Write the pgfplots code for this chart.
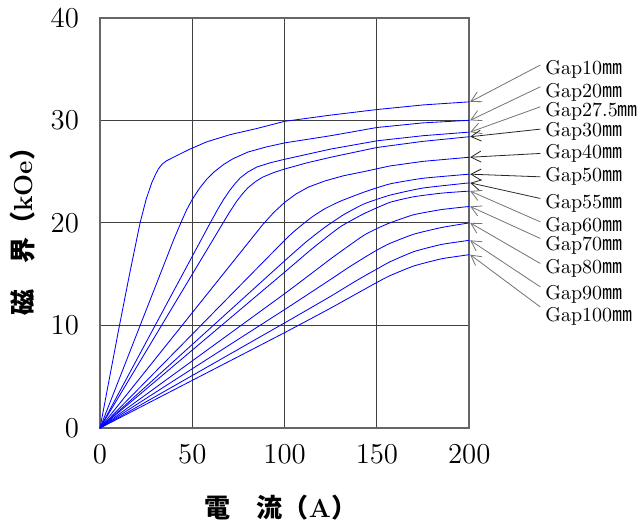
\documentclass[border=0pt]{standalone}
\usepackage{fontspec}
\usepackage{pgfplots}
\pgfplotsset{compat=1.18}
\usetikzlibrary{arrows.meta}
\newfontfamily\cjk{Noto Sans CJK JP}
\tikzset{
  gapcurve/.style={blue, line width=0.42pt},
  gapsmooth/.style={blue, line width=0.42pt, smooth, tension=0.3},
  gaparrow/.style={draw=black!55, line width=0.4pt, -{Straight Barb[length=5pt,width=5.5pt]}},
  gaplabel/.style={anchor=west, inner sep=0pt, font=\fontsize{10}{10}\selectfont},
}

\begin{document}
\begin{tikzpicture}
\begin{axis}[
  width=184.5pt, height=205pt, scale only axis,
  xmin=0, xmax=200, ymin=0, ymax=40,
  xtick={0,50,...,200}, ytick={0,10,...,40},
  grid=major, major grid style={black!75, line width=0.5pt},
  axis line style={black!60, line width=1pt},
  major tick length=0pt,
  tick label style={font=\fontsize{14}{14}\selectfont},
  xticklabel style={yshift=-5pt},
  yticklabel style={xshift=-7pt},
  xlabel={{\cjk\bfseries 電　流（}\textbf{A}{\cjk\bfseries ）}},
  ylabel={{\cjk\bfseries 磁　界（}\textbf{kOe}{\cjk\bfseries ）}},
  xlabel style={font=\fontsize{13}{13}\selectfont, at={(axis description cs:0.49,-0.193)}, anchor=center},
  ylabel style={font=\fontsize{13}{13}\selectfont, at={(axis description cs:-0.209,0.494)}, anchor=center},
  clip=false,
]
% Gap10
\addplot[gapcurve] coordinates {(0,0) (10,9.5) (16,15.0) (21.7,20.0) (25,22.3) (28,23.9) (30,24.7) (31.6,25.25) (33.5,25.7) (36,26.05) (42,26.6) (48.8,27.2) (57.8,27.9) (70.4,28.6) (84.9,29.2) (100,29.9) (124.6,30.5) (150,31.05) (175,31.5) (200,31.8)};
% Gap20
\addplot[gapcurve] coordinates {(0,0) (20,9.2) (40,18.4) (44,20.1) (47,21.3) (50,22.3) (54,23.4) (58,24.3) (62,25.0) (67,25.7) (72,26.25) (80,26.9) (90,27.4) (100,27.8) (125,28.5) (150,29.3) (175,29.75) (200,30.0)};
% Gap27.5
\addplot[gapcurve] coordinates {(0,0) (60,20.1) (64,21.4) (67,22.3) (70,23.1) (73,23.8) (76,24.4) (80,24.95) (85,25.45) (92,25.85) (100,26.2) (125,27.2) (150,28.0) (175,28.5) (200,28.85)};
% Gap30
\addplot[gapcurve] coordinates {(0,0) (70,21.0) (74,22.1) (77,22.8) (80,23.4) (84,24.0) (88,24.45) (94,24.9) (100,25.25) (112,25.85) (125,26.4) (150,27.35) (175,27.95) (200,28.4)};
% Gap40
\addplot[gapcurve] coordinates {(0,0) (88,19.8) (94,21.0) (100,22.0) (106,22.8) (113,23.5) (122,24.1) (132,24.6) (143,25.0) (157,25.55) (175,26.0) (200,26.4)};
% Gap50
\addplot[gapsmooth] coordinates {(0,0) (50,9.15) (100,18.3) (108,19.6) (115,20.6) (122,21.4) (130,22.1) (143,23.0) (157,23.8) (175,24.35) (200,24.75)};
% Gap55
\addplot[gapsmooth] coordinates {(0,0) (50,8.15) (100,16.3) (112,18.2) (122,19.6) (132,20.8) (143,21.85) (157,22.7) (175,23.4) (200,23.9)};
% Gap60
\addplot[gapsmooth] coordinates {(0,0) (50,7.6) (100,15.2) (115,17.5) (130,19.6) (143,20.9) (157,22.0) (170,22.55) (185,22.9) (200,23.1)};
% Gap70
\addplot[gapsmooth] coordinates {(0,0) (50,6.55) (100,13.1) (125,16.5) (135,17.8) (143,18.8) (150,19.45) (157,20.0) (170,20.8) (185,21.3) (200,21.6)};
% Gap80
\addplot[gapsmooth] coordinates {(0,0) (50,5.78) (100,11.55) (125,14.5) (135,15.7) (143,16.6) (150,17.35) (157,18.0) (170,18.9) (185,19.55) (200,20.0)};
% Gap90
\addplot[gapsmooth] coordinates {(0,0) (50,5.12) (100,10.25) (125,12.85) (135,13.95) (143,14.8) (150,15.5) (157,16.2) (170,17.2) (185,17.9) (200,18.3)};
% Gap100
\addplot[gapsmooth] coordinates {(0,0) (50,4.65) (100,9.3) (125,11.7) (135,12.7) (143,13.5) (150,14.2) (157,14.85) (170,15.8) (185,16.5) (200,16.9)};

% labels and arrows on the right
\draw[gaparrow] (axis cs:238.5,35.39) -- (axis cs:200.5,31.8);
\draw[gaparrow] (axis cs:238.5,33.27) -- (axis cs:200.5,30.0);
\draw[gaparrow] (axis cs:238.5,31.32) -- (axis cs:200.5,28.85);
\draw[gaparrow, draw=black!85] (axis cs:238.5,29.14) -- (axis cs:200.5,28.4);
\draw[gaparrow, draw=black!85] (axis cs:238.5,26.77) -- (axis cs:200.5,26.4);
\draw[gaparrow, draw=black!85] (axis cs:238.5,24.49) -- (axis cs:200.5,24.75);
\draw[gaparrow, draw=black!85] (axis cs:238.5,22.38) -- (axis cs:200.5,23.9);
\draw[gaparrow] (axis cs:238.5,20.10) -- (axis cs:200.5,23.1);
\draw[gaparrow] (axis cs:238.5,18.48) -- (axis cs:200.5,21.6);
\draw[gaparrow] (axis cs:238.5,16.04) -- (axis cs:200.5,20.0);
\draw[gaparrow] (axis cs:238.5,13.76) -- (axis cs:200.5,18.3);
\draw[gaparrow] (axis cs:238.5,11.80) -- (axis cs:200.5,16.9);
\node[gaplabel] at (axis cs:241,34.97) {Gap10{\cjk ㎜}};
\node[gaplabel] at (axis cs:241,32.68) {Gap20{\cjk ㎜}};
\node[gaplabel] at (axis cs:241,30.83) {Gap27.5{\cjk ㎜}};
\node[gaplabel] at (axis cs:241,28.88) {Gap30{\cjk ㎜}};
\node[gaplabel] at (axis cs:241,26.77) {Gap40{\cjk ㎜}};
\node[gaplabel] at (axis cs:241,24.49) {Gap50{\cjk ㎜}};
\node[gaplabel] at (axis cs:241,21.89) {Gap55{\cjk ㎜}};
\node[gaplabel] at (axis cs:241,19.68) {Gap60{\cjk ㎜}};
\node[gaplabel] at (axis cs:241,17.82) {Gap70{\cjk ㎜}};
\node[gaplabel] at (axis cs:241,15.55) {Gap80{\cjk ㎜}};
\node[gaplabel] at (axis cs:241,13.04) {Gap90{\cjk ㎜}};
\node[gaplabel] at (axis cs:241,10.93) {Gap100{\cjk ㎜}};

\coordinate (BL) at (axis cs:-54.17,-9.10);
\coordinate (TR) at (axis cs:291.4,41.73);
\end{axis}
\pgfresetboundingbox
\path[use as bounding box] (BL) rectangle (TR);
\end{tikzpicture}
\end{document}
